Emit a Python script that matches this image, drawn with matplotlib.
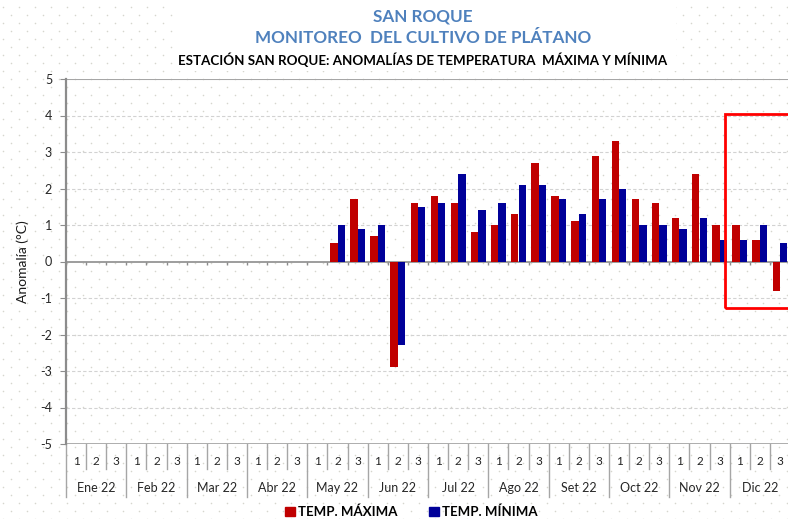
# coding=utf-8
# Anomalias de temperatura maxima y minima - Estacion San Roque
###############################################################################
import numpy as np
import matplotlib
matplotlib.use('Agg')
import matplotlib.pyplot as plt
import matplotlib.transforms as mtransforms
from matplotlib.patches import Patch, Rectangle

plt.rcParams['font.family'] = ['Lato', 'DejaVu Sans']
plt.rcParams['axes.unicode_minus'] = False
###############################################################################

meses = ['Ene 22', 'Feb 22', 'Mar 22', 'Abr 22', 'May 22', 'Jun 22',
         'Jul 22', 'Ago 22', 'Set 22', 'Oct 22', 'Nov 22', 'Dic 22']
dekadas = ['1', '2', '3']

nan = np.nan
# anomalia por dekada (Ene 1 ... Dic 3)
tmax = [nan, nan, nan,  nan, nan, nan,  nan, nan, nan,  nan, nan, nan,
        nan, 0.5, 1.7,  0.7, -2.9, 1.6,  1.8, 1.6, 0.8,  1.0, 1.3, 2.7,
        1.8, 1.1, 2.9,  3.3, 1.7, 1.6,  1.2, 2.4, 1.0,  1.0, 0.6, -0.8]
tmin = [nan, nan, nan,  nan, nan, nan,  nan, nan, nan,  nan, nan, nan,
        nan, 1.0, 0.9,  1.0, -2.3, 1.5,  1.6, 2.4, 1.4,  1.6, 2.1, 2.1,
        1.7, 1.3, 1.7,  2.0, 1.0, 1.0,  0.9, 1.2, 0.6,  0.6, 1.0, 0.5]

col_max = '#C00000'
col_min = '#000099'
col_tit = '#4F81BD'
col_eje = '#8C8C8C'


def plot_fig(savepath):
    W, H = 788, 519
    fig = plt.figure(figsize=(W/100., H/100.), dpi=100)

    # fondo punteado
    bg = fig.add_axes([0, 0, 1, 1], zorder=-10)
    bg.set_xlim(0, W)
    bg.set_ylim(H, 0)
    bg.axis('off')
    xs, ys = [], []
    for k, yy in enumerate(np.arange(6.7, H, 8)):
        x0 = 3.3 if k % 2 == 0 else 11.3
        for xx in np.arange(x0, W, 16):
            xs.append(xx)
            ys.append(yy)
    bg.scatter(xs, ys, s=1.3, color='#D6D6CE', linewidths=0)
    bg.add_patch(Rectangle((173, 0), 503, 71, facecolor='white', edgecolor='none'))

    # titulos
    fig.text(0.537, 1-16/H, 'SAN ROQUE', ha='center', va='center',
             fontsize=12.3, fontweight='bold', color=col_tit)
    fig.text(0.537, 1-38/H, 'MONITOREO  DEL CULTIVO DE PLÁTANO', ha='center', va='center',
             fontsize=12.3, fontweight='bold', color=col_tit)
    fig.text(0.536, 1-60/H, 'ESTACIÓN SAN ROQUE: ANOMALÍAS DE TEMPERATURA  MÁXIMA Y MÍNIMA',
             ha='center', va='center', fontsize=9.6, fontweight='bold', color='black')

    # ejes principales
    ax = fig.add_axes([66./W, 75./H, 724./W, 365./H])
    ax.set_facecolor('none')
    n = len(tmax)
    x = np.arange(n)
    wd = 0.365
    ax.bar(x - wd/2, tmax, width=wd, color=col_max, zorder=3)
    ax.bar(x + wd/2, tmin, width=wd, color=col_min, zorder=3)

    ax.set_xlim(-0.5, n - 0.5)
    ax.set_ylim(-5, 5)
    ax.set_yticks(range(-5, 6))
    ax.set_xticks([])
    for v in range(-4, 5):
        if v != 0:
            ax.axhline(v, color='#D2D2D2', lw=0.8, ls=(0, (3, 2)), zorder=1)
    ax.axhline(5, color='#A6A6A6', lw=1.5, zorder=1)
    ax.axhline(-5, color='#A6A6A6', lw=2, zorder=1)
    ax.axhline(0, color=col_eje, lw=1.2, zorder=2)
    # marcas sobre el eje cero
    ax.vlines(np.arange(n + 1) - 0.5, -0.09, 0, color=col_eje, lw=1, zorder=2)

    for s in ['top', 'right', 'bottom']:
        ax.spines[s].set_visible(False)
    ax.spines['left'].set_color(col_eje)
    ax.spines['left'].set_linewidth(1.6)
    ax.tick_params(axis='y', which='major', length=4, color=col_eje, pad=6,
                   labelsize=9, labelcolor='#262626')
    ax.set_ylabel(u'Anomalía (°C)', fontsize=10, color='#1a1a1a', labelpad=8)

    # etiquetas de categoria tipo tabla
    trans = mtransforms.blended_transform_factory(ax.transData, ax.transAxes)
    for i in range(n + 1):
        y1 = -0.145 if i % 3 == 0 else -0.068
        ax.plot([i - 0.5, i - 0.5], [0, y1], color='#A6A6A6', lw=1,
                transform=trans, clip_on=False)
    for i in range(n):
        ax.text(i, -0.049, dekadas[i % 3], transform=trans, ha='center', va='center',
                fontsize=8.5, color='#262626')
    for m, mes in enumerate(meses):
        ax.text(3*m + 1, -0.121, mes, transform=trans, ha='center', va='center',
                fontsize=9, color='#262626')

    # recuadro rojo (dic 22)
    ax.add_patch(Rectangle((32.29, -1.28), 5, 5.31, fill=False, edgecolor='#FF0000',
                           lw=2, clip_on=False, zorder=5))

    # leyenda
    handles = [Patch(color=col_max, label='TEMP. MÁXIMA'),
               Patch(color=col_min, label='TEMP. MÍNIMA')]
    fig.legend(handles=handles, loc='center', bbox_to_anchor=(0.522, 1-512./H),
               ncol=2, frameon=False, handlelength=0.75, handleheight=0.75,
               handletextpad=0.25, columnspacing=2.4,
               prop={'size': 9.5, 'weight': 'bold'})

    plt.savefig(savepath, dpi=100)
    plt.close()
    return savepath

###############################################################################

if __name__ == '__main__':
    plot_fig('out.png')
